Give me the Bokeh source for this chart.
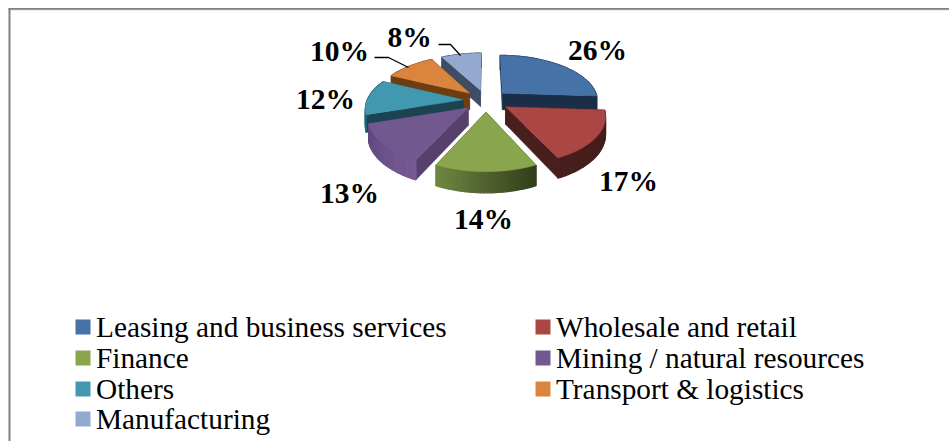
import numpy as np
from bokeh.core.properties import value
from bokeh.plotting import figure
from bokeh.models import Range1d
from bokeh.embed import file_html
from bokeh.resources import INLINE

categories = ["Leasing and business services", "Wholesale and retail", "Finance",
              "Mining / natural resources", "Others", "Transport & logistics", "Manufacturing"]
shares = [26, 17, 14, 13, 12, 10, 8]
top_colors = ["#4572A7", "#AA4643", "#89A54E", "#71588F", "#4198AF", "#DB843D", "#93A9CF"]
wall_colors = ["#1B2E48", "#481F1D", "#3A4621", "#58406E", "#1B4350", "#6E3E12", "#3F4C66"]
arc_start = ["#1B2E48", "#421C1A", "#323D1C", "#775A93", "#2C6A7C", "#6E3E12", "#3F4C66"]
arc_end = ["#1B2E48", "#481F1D", "#6F8640", "#5F4880", "#1B4350", "#6E3E12", "#3F4C66"]
label_text = ["26%", "17%", "14%", "13%", "12%", "10%", "8%"]

# layout of the drawing, in page pixels
W, H = 949, 441
CX, CY, RX, RY, K, EXPLODE, DEPTH = 485.5, 100.0, 96.0, 46.0, 0.16, 0.24, 17.0
label_x = [597, 628, 483, 349, 325, 339, 409]
label_y = [49, 180, 218, 192, 98, 50, 36]
leader_xs = [[374, 388, 408], [438, 450, 460]]
leader_ys = [[57, 57, 67], [44, 44, 55]]
legend_x = [75, 535]
legend_y = [326.5, 357.5, 388.5, 418.5]

p = figure(width=W, height=H, output_backend="svg", toolbar_location=None,
           x_range=Range1d(0, W), y_range=Range1d(H, 0),
           min_border=0, outline_line_color=None, background_fill_color="white")
p.xaxis.visible = False
p.yaxis.visible = False
p.grid.visible = False

# chart frame: only its top and left edges are in view
p.segment([8], [9.5], [W], [9.5], line_color="#dcdcdc", line_width=1)
p.segment([8], [8.4], [W], [8.4], line_color="#808080", line_width=1.6)
p.segment([9], [8], [9], [H], line_color="#808080", line_width=2)


def project(u, v, z=0.0):
    """disk coordinates to page pixels, with a mild perspective"""
    s = 1.0 / (1.0 - K * v)
    return CX + RX * u * s, CY + RY * v * s + z * s


def mix(a, b, t):
    a = [int(a[i:i + 2], 16) for i in (1, 3, 5)]
    b = [int(b[i:i + 2], 16) for i in (1, 3, 5)]
    return "#%02x%02x%02x" % tuple(int(round(x + (y - x) * t)) for x, y in zip(a, b))


slices = []
start = 0.0
for i, s in enumerate(shares):
    end = start + s / sum(shares) * 2 * np.pi
    slices.append((i, start, end))
    start = end

# paint from the back of the pie to the front
order = sorted(slices, key=lambda t: -np.cos((t[1] + t[2]) / 2))
for i, a0, a1 in order:
    mid = (a0 + a1) / 2
    ou, ov = EXPLODE * np.sin(mid), -EXPLODE * np.cos(mid)
    th = np.linspace(a0, a1, 30)
    us, vs = ou + np.sin(th), ov - np.cos(th)
    # radial walls
    for uu, vv in ((us[0], vs[0]), (us[-1], vs[-1])):
        x0, y0 = project(ou, ov)
        x1, y1 = project(uu, vv)
        x2, y2 = project(uu, vv, DEPTH)
        x3, y3 = project(ou, ov, DEPTH)
        p.patch([x0, x1, x2, x3], [y0, y1, y2, y3], fill_color=wall_colors[i],
                line_color=wall_colors[i], line_width=0.5)
    # outer wall, shaded in thin strips
    for j in range(len(th) - 1):
        c = mix(arc_start[i], arc_end[i], j / (len(th) - 2))
        ax, ay = project(us[j], vs[j])
        bx, by = project(us[j + 1], vs[j + 1])
        cx, cy = project(us[j + 1], vs[j + 1], DEPTH)
        dx, dy = project(us[j], vs[j], DEPTH)
        p.patch([ax, bx, cx, dx], [ay, by, cy, dy], fill_color=c, line_color=c, line_width=1.2)
    # top face
    tx, ty = project(np.r_[ou, us], np.r_[ov, vs])
    p.patch(list(tx), list(ty), fill_color=top_colors[i], line_color=top_colors[i], line_width=0.5)

for xs, ys in zip(leader_xs, leader_ys):
    p.line(xs, ys, line_color="black", line_width=1.3)

p.text(label_x, label_y, text=label_text, text_font_size="29.5px", text_font_style="bold",
       text_font=value("Liberation Serif"), text_align="center", text_baseline="middle",
       text_color="black")

lx = [legend_x[k % 2] for k in range(len(categories))]
ly = [legend_y[k // 2] for k in range(len(categories))]
p.rect(x=[x + 7.5 for x in lx], y=ly, width=15, height=15, fill_color=top_colors, line_color=None)
p.text([x + 20.5 for x in lx], ly, text=categories, text_font_size="29.3px",
       text_font=value("Liberation Serif"), text_align="left", text_baseline="middle",
       text_color="black")

open("out.html", "w").write(file_html(p, INLINE))
